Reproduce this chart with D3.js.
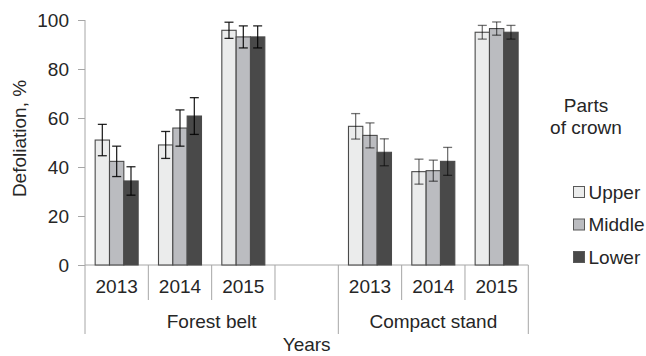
<!DOCTYPE html>
<html>
<head>
<meta charset="utf-8">
<script src="https://cdn.jsdelivr.net/npm/d3@7"></script>
<style>
  html, body { margin: 0; padding: 0; background: #fff; }
  svg { display: block; }
  text { font-family: "Liberation Sans", Arial, sans-serif; fill: #262626; }
</style>
</head>
<body>
<svg id="chart" width="646" height="356"></svg>
<script>
// Sites, years and crown parts
const groups = ["Forest belt", "Compact stand"];
const years = ["2013", "2014", "2015"];
const parts = ["Upper", "Middle", "Lower"];
const yTicks = [0, 20, 40, 60, 80, 100];

// Mean defoliation (%) per year, one array per crown part
const forestUpper  = [51, 49, 95.8];
const forestMiddle = [42.3, 55.9, 93.1];
const forestLower  = [34.3, 60.8, 93.1];
const compactUpper  = [56.6, 38.1, 95];
const compactMiddle = [52.9, 38.5, 96.5];
const compactLower  = [46, 42.3, 95];

// Error bar half-widths (%)
const forestUpperErr  = [6.4, 5.5, 3.3];
const forestMiddleErr = [6.2, 7.4, 4.5];
const forestLowerErr  = [5.8, 7.5, 4.5];
const compactUpperErr  = [5.2, 5.1, 2.8];
const compactMiddleErr = [5.1, 4.3, 2.7];
const compactLowerErr  = [5.5, 5.7, 2.8];

const values = {
  "Forest belt":   [forestUpper, forestMiddle, forestLower],
  "Compact stand": [compactUpper, compactMiddle, compactLower]
};
const errors = {
  "Forest belt":   [forestUpperErr, forestMiddleErr, forestLowerErr],
  "Compact stand": [compactUpperErr, compactMiddleErr, compactLowerErr]
};

const partFill = { Upper: "#ebecec", Middle: "#bbbcc0", Lower: "#494949" };
const errOpacity = { "Forest belt": 0.85, "Compact stand": 0.55 };

// Slot layout: the forest belt keeps an empty slot after its last year
const slots = [];
groups.forEach((g, gi) => {
  years.forEach(y => slots.push({ id: g + "|" + y, group: g, year: y }));
  if (gi === 0) slots.push({ id: g + "|gap", group: g, year: null });
});

const svg = d3.select("#chart");
const plotLeft = 85, plotRight = 528.3, plotTop = 20, plotBottom = 265;
const yearLineEnd = 300, groupLineEnd = 334;
const fontSize = "19px";
const axisColor = "#a6a6a6";

const x = d3.scaleBand().domain(slots.map(s => s.id)).range([plotLeft, plotRight]).padding(0);
const y = d3.scaleLinear().domain([0, 100]).range([plotBottom, plotTop]);
const barSpan = 43;
const xInner = d3.scaleBand().domain(parts)
  .range([(x.bandwidth() - barSpan) / 2, (x.bandwidth() + barSpan) / 2]).padding(0);

// Y axis
const yAxis = svg.append("g")
  .attr("transform", `translate(${plotLeft},0)`)
  .call(d3.axisLeft(y).tickValues(yTicks).tickSize(7).tickPadding(9).tickFormat(d3.format("d")));
yAxis.select(".domain").remove();
yAxis.attr("font-family", null).attr("font-size", null);
yAxis.selectAll(".tick line").attr("stroke", axisColor);
yAxis.selectAll(".tick text").style("font-size", fontSize).attr("fill", "#262626");

svg.append("line")
  .attr("x1", plotLeft).attr("x2", plotLeft)
  .attr("y1", y(100)).attr("y2", groupLineEnd)
  .attr("stroke", axisColor);

// Baseline
svg.append("line")
  .attr("x1", plotLeft).attr("x2", plotRight)
  .attr("y1", y(0)).attr("y2", y(0))
  .attr("stroke", axisColor);

// Slot dividers
slots.forEach((s, i) => {
  if (i === 0) return;
  const isGroupEdge = slots[i - 1].group !== s.group;
  svg.append("line")
    .attr("x1", x(s.id)).attr("x2", x(s.id))
    .attr("y1", y(0)).attr("y2", isGroupEdge ? groupLineEnd : yearLineEnd)
    .attr("stroke", axisColor);
});
svg.append("line")
  .attr("x1", plotRight).attr("x2", plotRight)
  .attr("y1", y(0)).attr("y2", groupLineEnd)
  .attr("stroke", axisColor);

// Bars and error bars
const barData = [];
slots.filter(s => s.year).forEach(s => {
  const yi = years.indexOf(s.year);
  parts.forEach((p, pi) => {
    barData.push({
      slot: s.id, group: s.group, part: p,
      value: values[s.group][pi][yi],
      err: errors[s.group][pi][yi]
    });
  });
});

const bars = svg.append("g");
bars.selectAll("rect").data(barData).join("rect")
  .attr("x", d => x(d.slot) + xInner(d.part))
  .attr("y", d => y(d.value))
  .attr("width", xInner.bandwidth())
  .attr("height", d => y(0) - y(d.value))
  .attr("fill", d => partFill[d.part])
  .attr("stroke", "#4a4a4a")
  .attr("stroke-width", 1.1);

const capW = 9;
const errG = svg.append("g");
barData.forEach(d => {
  const cx = x(d.slot) + xInner(d.part) + xInner.bandwidth() / 2;
  const g = errG.append("g")
    .attr("stroke", "#000")
    .attr("stroke-opacity", errOpacity[d.group])
    .attr("stroke-width", 1.3);
  const yHi = y(d.value + d.err), yLo = y(d.value - d.err);
  g.append("line").attr("x1", cx).attr("x2", cx).attr("y1", yHi).attr("y2", yLo);
  g.append("line").attr("x1", cx - capW / 2).attr("x2", cx + capW / 2).attr("y1", yHi).attr("y2", yHi);
  g.append("line").attr("x1", cx - capW / 2).attr("x2", cx + capW / 2).attr("y1", yLo).attr("y2", yLo);
});

// Year labels
svg.append("g").selectAll("text").data(slots.filter(s => s.year)).join("text")
  .attr("x", s => x(s.id) + x.bandwidth() / 2)
  .attr("y", 293)
  .attr("text-anchor", "middle")
  .style("font-size", fontSize)
  .text(s => s.year);

// Group labels
svg.append("g").selectAll("text").data(groups).join("text")
  .attr("x", g => {
    const ids = slots.filter(s => s.group === g).map(s => s.id);
    return (x(ids[0]) + x(ids[ids.length - 1]) + x.bandwidth()) / 2;
  })
  .attr("y", 328)
  .attr("text-anchor", "middle")
  .style("font-size", fontSize)
  .text(g => g);

// Axis titles
svg.append("text")
  .attr("x", (plotLeft + plotRight) / 2).attr("y", 351)
  .attr("text-anchor", "middle")
  .style("font-size", fontSize)
  .text("Years");

svg.append("text")
  .attr("transform", `translate(26,${(plotTop + plotBottom) / 2 - 4}) rotate(-90)`)
  .attr("text-anchor", "middle")
  .style("font-size", fontSize)
  .text("Defoliation, %");

// Legend
const legendTitle = svg.append("text")
  .attr("x", 586).attr("y", 112)
  .attr("text-anchor", "middle")
  .style("font-size", fontSize);
legendTitle.append("tspan").attr("x", 586).attr("dy", 0).text("Parts");
legendTitle.append("tspan").attr("x", 586).attr("dy", 22).text("of crown");

const legend = svg.append("g").selectAll("g").data(parts).join("g")
  .attr("transform", (p, i) => `translate(573.5,${186.5 + i * 32.5})`);
legend.append("rect")
  .attr("width", 11).attr("height", 11)
  .attr("fill", p => partFill[p])
  .attr("stroke", "#595959");
legend.append("text")
  .attr("x", 15).attr("y", 12)
  .style("font-size", fontSize)
  .text(p => p);
</script>
</body>
</html>
